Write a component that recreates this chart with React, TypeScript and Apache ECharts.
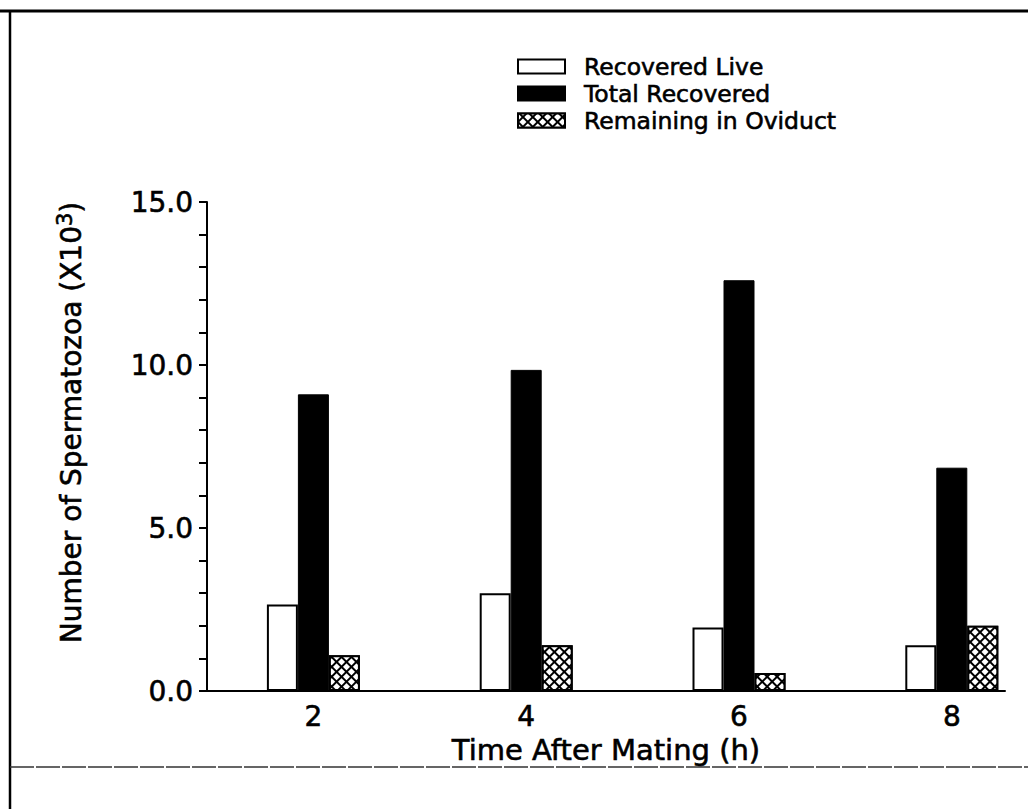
import React, { useEffect, useRef } from "react";
import * as echarts from "echarts";

const hours = [2, 4, 6, 8];
const recoveredLive = [2.65, 3.0, 1.95, 1.4];
const totalRecovered = [9.1, 9.85, 12.6, 6.85];
const remainingInOviduct = [1.1, 1.4, 0.55, 2.0];
const seriesNames = ["Recovered Live", "Total Recovered", "Remaining in Oviduct"];
const xTitle = "Time After Mating (h)";
const yTitleMain = "Number of Spermatozoa (X10";
const yTitleSup = "3";

const FONT = "DejaVu Sans";
const heavy = { textBorderColor: "#000", textBorderWidth: 0.6 };

export default function App() {
  const ref = useRef<HTMLDivElement>(null);
  useEffect(() => {
    if (!ref.current) return;
    const chart = echarts.init(ref.current, null, { renderer: "svg" });
    const pair = (arr: number[]) => hours.map((h, i) => [h, arr[i]]);
    const option: any = {
      animation: false,
      backgroundColor: "#fff",
      textStyle: { fontFamily: FONT, color: "#000" },
      grid: { left: 207, right: 23, top: 202, bottom: 118, containLabel: false },
      legend: {
        orient: "vertical",
        left: 512,
        top: 48,
        itemWidth: 47,
        itemHeight: 14,
        itemGap: 0,
        icon: "rect",
        data: seriesNames,
        textStyle: {
          fontFamily: FONT,
          fontSize: 23.5,
          color: "#000",
          lineHeight: 27,
          padding: [0, 0, 0, 14],
          ...heavy,
        },
      },
      xAxis: {
        type: "value",
        min: 1,
        max: 8.5,
        interval: 1,
        splitLine: { show: false },
        axisTick: { show: false },
        axisLine: { show: true, onZero: false, lineStyle: { color: "#000", width: 2 } },
        axisLabel: {
          fontFamily: FONT,
          fontSize: 28,
          color: "#000",
          margin: 11,
          ...heavy,
          formatter: (v: number) => (hours.indexOf(v) >= 0 ? String(v) : ""),
        },
        name: xTitle,
        nameLocation: "middle",
        nameGap: 40,
        nameTextStyle: { fontFamily: FONT, fontSize: 29, color: "#000", ...heavy },
      },
      yAxis: {
        type: "value",
        min: 0,
        max: 15,
        interval: 1,
        splitLine: { show: false },
        axisLine: { show: true, lineStyle: { color: "#000", width: 2 } },
        axisTick: { show: true, inside: false, length: 8, lineStyle: { color: "#000", width: 2 } },
        axisLabel: {
          fontFamily: FONT,
          fontSize: 28,
          color: "#000",
          margin: 14,
          ...heavy,
          formatter: (v: number) => (v % 5 === 0 ? v.toFixed(1) : ""),
        },
        name: "{a|" + yTitleMain + "}{s|" + yTitleSup + "}{a|)}",
        nameLocation: "middle",
        nameGap: 118,
        nameRotate: 90,
        nameTextStyle: {
          padding: [0, 0, 0, 48],
          rich: {
            a: { fontFamily: FONT, fontSize: 28, color: "#000", ...heavy },
            s: { fontFamily: FONT, fontSize: 21, color: "#000", verticalAlign: "top", padding: [0, 0, 14, 0], ...heavy },
          },
        },
      },
      series: [
        {
          name: seriesNames[0],
          type: "bar",
          barWidth: 31,
          barGap: "0%",
          data: pair(recoveredLive),
          itemStyle: { color: "#fff", borderColor: "#000", borderWidth: 2 },
        },
        {
          name: seriesNames[1],
          type: "bar",
          barWidth: 31,
          barGap: "0%",
          data: pair(totalRecovered),
          itemStyle: { color: "#000", borderColor: "#000", borderWidth: 1 },
        },
        {
          name: seriesNames[2],
          type: "bar",
          barWidth: 31,
          barGap: "0%",
          data: pair(remainingInOviduct),
          itemStyle: {
            color: "#000",
            borderColor: "#000",
            borderWidth: 2,
            decal: {
              symbol: "rect",
              symbolSize: 1,
              color: "#fff",
              dashArrayX: [5, 2],
              dashArrayY: [5, 2],
              rotation: Math.PI / 4,
            },
          },
        },
      ],
      graphic: [
        { type: "line", shape: { x1: 0, y1: 11, x2: 1028, y2: 11 }, style: { stroke: "#000", lineWidth: 3 } },
        { type: "line", shape: { x1: 10, y1: 11, x2: 10, y2: 809 }, style: { stroke: "#000", lineWidth: 2.5 } },
        {
          type: "line",
          shape: { x1: 10, y1: 767, x2: 1028, y2: 767 },
          style: { stroke: "#333", lineWidth: 1.5, lineDash: [24, 2] },
        },
      ],
    };
    chart.setOption(option);
    return () => chart.dispose();
  }, []);
  return <div ref={ref} style={{ position: "fixed", left: 0, top: 0, width: 1028, height: 809 }} />;
}
